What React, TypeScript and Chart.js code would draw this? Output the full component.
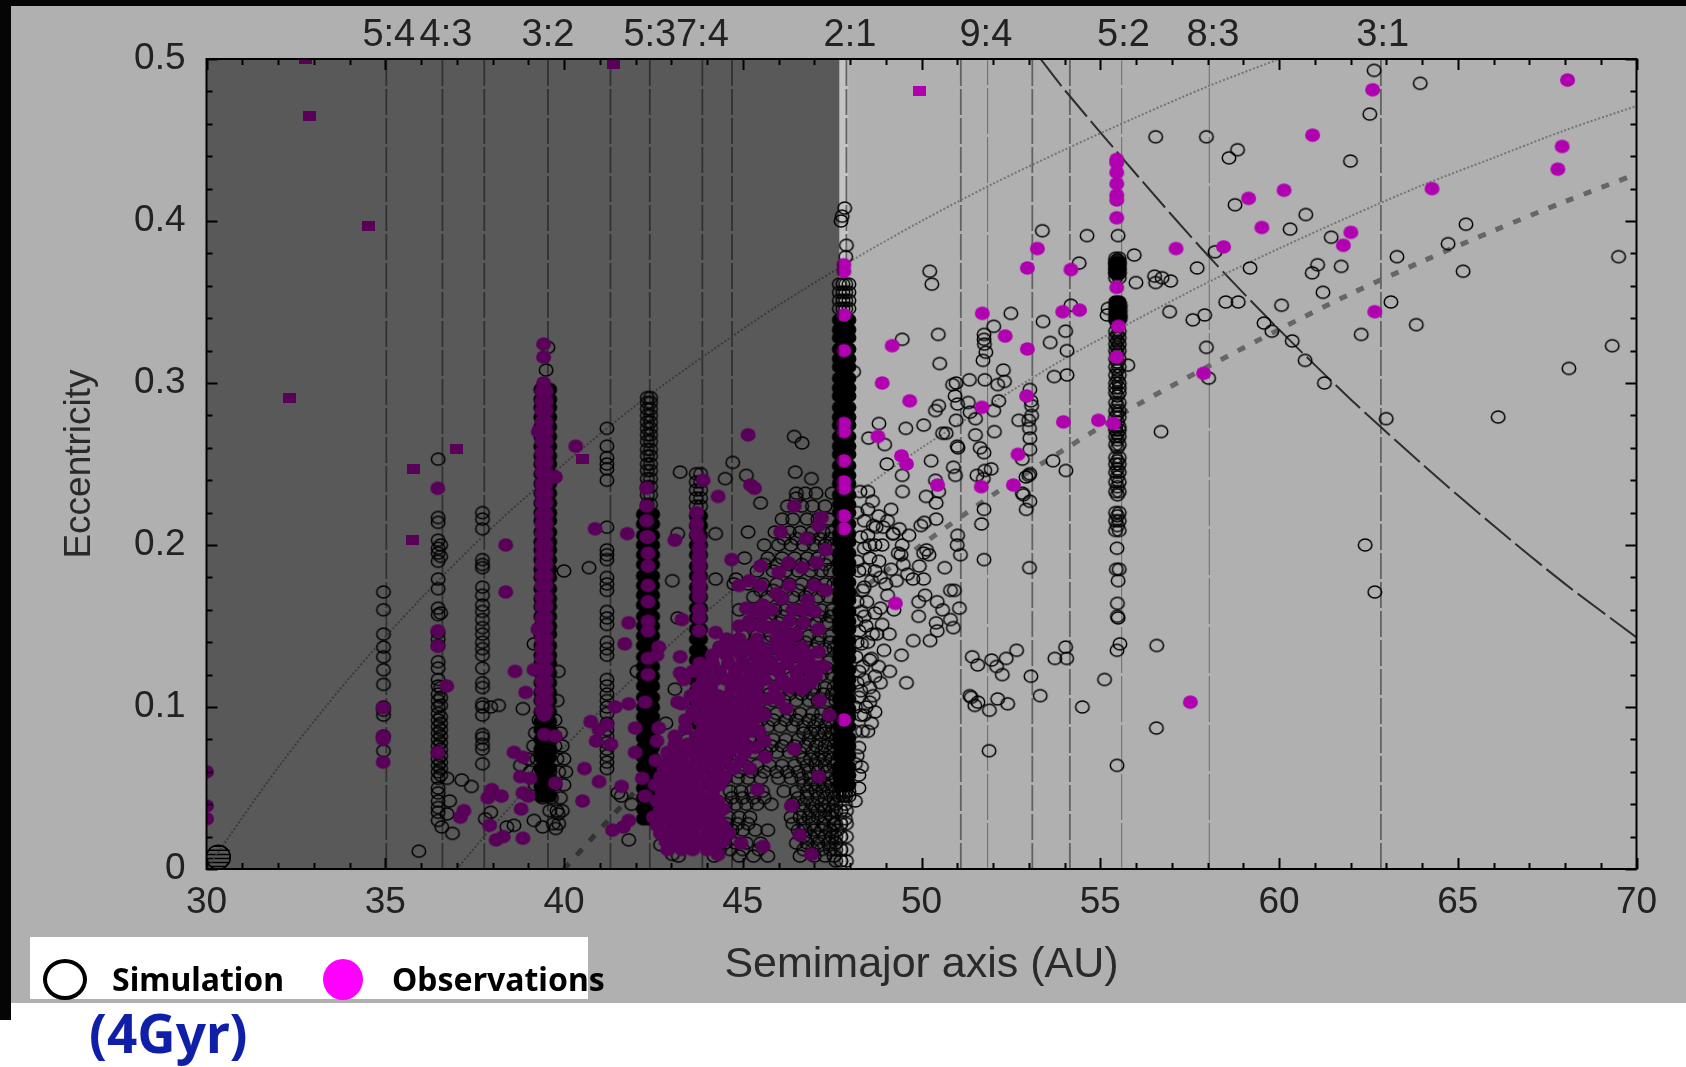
import React, { useEffect, useRef } from "react";
import { Chart, registerables } from "chart.js";

Chart.register(...registerables);

type P = [number, number];

// Axis and labels
const xTickStep = 5;
const yTickStep = 0.1;
const resonanceLabelA = [35.1, 36.7, 39.55, 42.4, 43.87, 48, 51.8, 55.65, 58.15, 62.9];
const resonanceLabels = ["5:4", "4:3", "3:2", "5:3", "7:4", "2:1", "9:4", "5:2", "8:3", "3:1"];
const resonanceLinesMain = [35.03, 36.6, 37.77, 39.55, 41.3, 42.4, 43.87, 44.7, 47.9, 51.1, 53.1, 54.15, 62.85];
const resonanceLinesThin = [51.85, 55.6, 58.05];
const darkLimit = 47.7;
const lightLimit = 47.95;

// Curves
const q30: P[] = [[30,0],[32,.0625],[34,.118],[36,.167],[38,.211],[40,.25],[42,.286],[44,.318],[46,.348],[48,.375],[50,.4],[52,.423],[54,.444],[56,.464],[58,.483],[60,.5]];
const q37: P[] = [[37,0],[38,.026],[40,.075],[42,.119],[44,.159],[46,.196],[48,.229],[50,.26],[52,.288],[54,.315],[56,.339],[58,.362],[60,.383],[62,.403],[64,.422],[66,.439],[68,.456],[70,.471]];
const q40: P[] = [[40,0],[42,.048],[44,.091],[46,.13],[48,.167],[50,.2],[52,.231],[54,.259],[56,.286],[58,.31],[60,.333],[62,.355],[64,.375],[66,.394],[68,.412],[70,.429]];
const bigQ80: P[] = [[53.33,.5],[54,.481],[56,.429],[58,.379],[60,.333],[62,.29],[64,.25],[66,.212],[68,.176],[70,.143]];
const hatch: P[] = [[30.12,.0015],[30.54,.0015],[30.63,.004],[30.03,.004],[30,.0065],[30.66,.0065],[30.66,.009],[30,.009],[30.05,.0115],[30.61,.0115],[30.47,.014],[30.19,.014]];
const hatchRing: P[] = [[30.33,.0073]];

// Simulation: crowded resonant columns, where the rings merge into solid black
const col21A = [47.7, 47.8, 47.88, 47.97];
const col21SolidE = [.052,.058,.063,.07,.076,.081,.088,.094,.099,.105,.112,.117,.123,.13,.135,.141,.148,.153,.159,.166,.171,.177,.184,.189,.195,.202,.207,.213,.22,.225,.231,.238,.243,.249,.256,.261,.267,.274,.279,.285,.292,.297,.303,.31,.315,.321,.328,.333,.339];
const col32A = [39.35, 39.48, 39.6];
const col32SolidE = [.045,.051,.056,.062,.069,.074,.08,.086,.091,.097,.104,.109,.115,.121,.127,.132,.138,.145,.15,.156,.162,.167,.173,.18,.185,.191,.197,.202,.208,.215,.22,.226,.232,.238,.244,.25,.255,.261,.267,.273,.279,.285,.29,.296];
const col53A = [42.22, 42.35, 42.48];
const col53SolidE = [.031,.037,.044,.05,.056,.063,.069,.075,.081,.088,.094,.1,.106,.113,.119,.125,.131,.138,.144,.15,.156,.163,.169,.175,.181,.188,.194,.2,.206,.213,.219];
const col74A = [43.7, 43.82];
const col74SolidE = [.09,.096,.103,.11,.116,.122,.129,.135,.142,.148,.155,.161,.168,.174,.181,.187,.194,.2,.206,.212,.218];
const col52A = [55.43, 55.53];
const col52SolidE = [.35,.347,.344,.341,.339,.374,.371,.368];

// Simulation: columns of separate rings
const col21RingE = [.045,.048,.346,.351,.356,.361];
const col21BaseA = [47.6, 47.75, 47.9];
const col21BaseE = [.005,.012,.02,.028,.036];
const col53TopA = [42.33, 42.42];
const col53TopE = [.225,.231,.236,.241,.246,.25,.255,.259,.264,.268,.272,.276,.28,.284,.288,.291];
const col74RingE = [.224,.229,.234,.239,.244];
const col35E = [.171,.16,.145,.137,.131,.123,.114,.1,.098,.095,.082,.073];
const col365E = [.253,.217,.214,.203,.198,.195,.19,.179,.173,.161,.157,.146,.142,.138,.128,.124,.117,.113,.108,.104,.1,.096,.092,.088,.084,.08,.076,.072,.068,.064,.06,.056,.05,.047,.042,.038,.035,.03];
const col365bE = [.2,.193,.158,.112,.106,.101,.094,.09,.086,.082,.078,.074,.07,.066,.062,.058];
const col377E = [.22,.216,.21,.191,.188,.186,.174,.169,.163,.159,.154,.149,.145,.14,.136,.132,.124,.115,.112,.102,.1,.095,.083,.081,.077,.074,.065];
const col412E = [.272,.261,.254,.25,.247,.24,.211,.197,.194,.191,.18,.176,.172,.159,.155,.151,.14,.136,.132,.117,.113,.108,.104,.1,.096,.09,.086,.082,.078,.074,.07,.066,.062];
const col52E = [.377,.375,.373,.37,.368,.365,.332,.328,.324,.32,.315,.31,.305,.3,.297,.294,.288,.283,.279,.273,.271,.267,.262,.254,.25,.245,.239,.233,.22,.215,.209];
const col52E2 = [.376,.372,.367,.336,.33,.326,.322,.318,.313,.308,.302,.292,.286,.281,.276,.269,.265,.26,.252,.247,.242,.236,.231,.218,.212];
const col52Lower: P[] = [[55.5,.391],[55.47,.198],[55.45,.185],[55.53,.185],[55.5,.178],[55.48,.164],[55.48,.156],[55.5,.155],[55.55,.139],[55.47,.135],[55.47,.064],[55.56,.348],[55.56,.345],[55.56,.342],[55.56,.34]];
const col21Top: P[] = [[47.85,.408],[47.78,.403],[47.9,.385],[47.88,.378],[47.75,.4]];

// Simulation: dense scatter in rows of equal eccentricity
const blobRowE = [.008,.016,.024,.032,.04,.048,.056,.064,.072,.08,.088,.096,.104,.112,.12,.128,.136,.144,.152,.16,.168,.176,.184,.192,.2,.208,.216,.224,.232];
const blobRowA = [
  [43.2,44.2,44.9,45.3,45.7,46.6,47,47.3,47.55],
  [44.5,44.8,45.1,45.5,46.5,46.8,47.1,47.4,47.6],
  [44.4,44.7,45,45.35,45.7,46.55,46.75,47,47.2,47.45,47.65],
  [44.6,44.9,45.2,46.35,46.6,46.85,47.1,47.3,47.5],
  [44.5,44.8,45.1,45.4,45.8,46.4,46.7,46.95,47.2,47.4,47.6],
  [44.65,44.95,45.25,45.55,46.15,46.5,46.8,47.05,47.25,47.5],
  [44.5,44.85,45.15,45.5,46,46.35,46.65,46.9,47.15,47.4,47.6],
  [44.7,45.05,45.4,45.75,46.1,46.45,46.8,47.05,47.3,47.55],
  [44.6,44.95,45.3,45.65,45.95,46.3,46.6,46.95,47.2,47.45],
  [44.8,45.2,45.55,45.85,46.2,46.55,46.85,47.15,47.4,47.6],
  [45.05,45.4,45.7,46.05,46.4,46.7,47,47.3,47.5],
  [45.3,45.6,45.95,46.3,46.6,46.95,47.2,47.45],
  [45.15,45.5,45.85,46.15,46.5,46.85,47.1,47.4,47.6],
  [45.3,45.7,46.05,46.4,46.75,47,47.3,47.55],
  [45.1,45.55,45.9,46.25,46.6,46.9,47.2,47.5],
  [45.35,45.75,46.1,46.45,46.8,47.1,47.4],
  [45.2,45.6,45.95,46.3,46.65,47,47.3,47.55],
  [45,45.4,45.8,46.15,46.5,46.85,47.15,47.45],
  [45.25,45.65,46,46.35,46.7,47.05,47.35],
  [44.9,45.5,45.9,46.2,46.55,46.9,47.2,47.5],
  [45.3,45.7,46.05,46.4,46.75,47.1,47.4],
  [44.75,45.15,45.55,45.95,46.3,46.65,47,47.3,47.55],
  [45.4,45.85,46.2,46.55,46.9,47.2,47.45],
  [45.05,45.7,46.1,46.45,46.8,47.1,47.35],
  [45.6,46,46.35,46.7,47,47.3,47.55],
  [45.9,46.3,46.6,46.95,47.25,47.5],
  [46.1,46.4,46.8,47.1,47.4],
  [46.25,46.65,46.95,47.3],
  [46.5,46.75,47.05,47.5],
];
const blobRow2E = [.012,.028,.044,.06,.076,.092,.108,.124,.14,.156,.172,.188,.204];
const blobRow2A = [
  [44.35,44.65,45,45.45,46.7,46.95,47.2,47.45],
  [44.55,44.85,45.15,46.4,46.7,46.95,47.25,47.55],
  [44.7,45,45.3,45.6,46.55,46.8,47.1,47.3,47.55],
  [44.55,44.9,45.25,45.6,45.95,46.25,46.55,46.85,47.1,47.35],
  [44.7,45.1,45.45,45.8,46.1,46.45,46.75,47.05,47.3,47.55],
  [45.2,45.5,45.85,46.2,46.5,46.85,47.1,47.4],
  [45.4,45.75,46,46.3,46.65,46.95,47.25,47.5],
  [45.45,45.8,46.15,46.5,46.7,47.05,47.35],
  [45.35,45.7,46.05,46.4,46.75,47.1,47.45],
  [45.4,45.75,46.1,46.45,46.8,47.15,47.45],
  [45.5,45.85,46.2,46.55,46.9,47.25],
  [45.6,45.95,46.3,46.65,47,47.3],
  [46.15,46.5,46.85,47.15,47.45],
];
const cornerA = [46.7, 46.9, 47.1, 47.3, 47.5];
const cornerE = [.02,.036,.052,.068,.084];
const base32RowE = [.028,.036,.044,.052,.06,.068,.076,.084,.092];
const base32RowA = [[39.7,39.85],[39.6,39.8,39.95],[39.4,39.65,39.9],[39.2,39.55,39.75,40],[39.05,39.3,39.6,39.85,40.05],[39,39.25,39.5,39.8,40],[39.15,39.4,39.75,39.95],[39.2,39.65,39.9],[39.3,39.75]];

// Simulation: individually read points
const simDark: P[] = [[39.5,.308],[39.55,.322],[36.73,.056],[37.14,.055],[37.41,.051],[36.8,.042],[36.73,.034],[36.58,.026],[36.88,.022],[35.94,.011],[38.17,.101],[37.95,.1],[38.85,.099],[39.16,.139],[37.8,.031],[37.95,.035],[38.4,.026],[38.6,.027],[39.16,.03],[39.4,.026],[39.77,.025],[39.84,.034],[38.78,.064],[39.84,.122],[39.81,.104],[41.51,.047],[41.89,.04],[41.81,.018],[41.6,.045],[46.44,.267],[46.66,.263],[46.47,.245],[46.92,.241],[46.5,.229],[45.5,.226],[45.1,.243],[44.72,.251],[44.51,.241],[43.25,.245],[44.24,.207],[43.18,.207],[45.15,.208],[40,.184],[40.7,.186],[43.03,.178],[43.18,.155],[44.24,.179],[44.81,.179],[42.04,.122],[43.1,.111],[43.03,.009],[42.7,.015],[42.8,.035],[43.1,.06],[43.45,.08],[42.85,.09],[43.3,.12]];
const simNear21: P[] = [[48.2,.07],[48.35,.085],[48.45,.1],[48.2,.115],[48.35,.125],[48.6,.13],[48.2,.14],[48.45,.15],[48.7,.158],[48.2,.165],[48.35,.172],[48.6,.178],[48.85,.18],[48.2,.19],[48.4,.185],[48.55,.192],[48.9,.2],[48.3,.205],[48.65,.212],[48.2,.22],[48.4,.215],[48.8,.218],[49.05,.215],[48.15,.1],[48.15,.085],[48.3,.095],[48.65,.107],[48.8,.125],[48.95,.135],[49.1,.145],[48.75,.145],[49.15,.185],[49.3,.178],[49.35,.195],[48.25,.05],[48.15,.042],[48.15,.065],[48.3,.11],[48.5,.14]];
const simLight: P[] = [[62.66,.493],[63.95,.485],[62.54,.466],[56.55,.452],[57.97,.452],[58.84,.444],[58.6,.439],[62,.437],[58.77,.41],[60.75,.404],[60.31,.395],[61.46,.39],[65.23,.398],[64.73,.386],[53.38,.394],[54.63,.391],[55.95,.379],[58.21,.381],[63.3,.378],[69.5,.378],[54.41,.374],[57.71,.371],[59.19,.371],[61.08,.373],[60.93,.368],[61.74,.372],[65.15,.369],[50.23,.369],[50.29,.361],[56.52,.366],[56.73,.365],[56.97,.363],[56.55,.362],[56,.362],[61.23,.356],[58.51,.35],[58.86,.35],[60.07,.348],[63.13,.35],[54.18,.348],[55.22,.346],[55.19,.342],[56.94,.344],[57.59,.339],[57.92,.342],[59.58,.337],[63.84,.336],[52.5,.343],[53.4,.338],[52.02,.335],[54.03,.332],[51.75,.33],[51.75,.327],[51.76,.324],[50.47,.33],[49.46,.327],[53.6,.325],[59.8,.332],[60.37,.326],[62.3,.33],[54.07,.32],[57.97,.322],[69.32,.323],[51.8,.319],[51.72,.314],[50.51,.312],[60.73,.314],[55.77,.311],[61.27,.3],[68.11,.309],[58.03,.303],[52.29,.308],[48.1,.307],[51.77,.302],[51.34,.302],[50.87,.299],[50.97,.3],[52.32,.301],[52.13,.299],[53.71,.304],[54.07,.305],[53.03,.296],[50.94,.292],[51.01,.287],[51.31,.288],[50.48,.286],[50.39,.283],[52.16,.289],[52.02,.283],[51.36,.282],[51.51,.278],[50.97,.277],[50.06,.274],[49.56,.272],[48.81,.275],[48.52,.266],[48.97,.262],[50.59,.269],[50.69,.269],[52.04,.27],[51.51,.268],[51,.261],[51.02,.26],[52.72,.277],[53,.277],[53.08,.28],[53.02,.272],[53.03,.266],[53.03,.259],[53.06,.289],[53.08,.286],[56.7,.27],[63,.278],[66.13,.279],[51.64,.26],[51.75,.257],[52.82,.253],[53.68,.252],[54.04,.246],[50.27,.252],[49.03,.25],[50.89,.248],[50.95,.243],[51.95,.247],[51.77,.246],[51.55,.243],[51.73,.241],[53,.243],[53.03,.244],[52.92,.242],[49.46,.243],[50.39,.24],[49.47,.233],[48.28,.233],[48.5,.233],[48.63,.227],[48.5,.222],[50.13,.23],[50.48,.233],[50.41,.226],[52.82,.232],[52.85,.231],[53.03,.227],[52.93,.222],[51.75,.222],[51.68,.213],[49.15,.222],[50.41,.216],[49.98,.212],[50.08,.214],[51.01,.206],[48.73,.211],[48.93,.211],[49.38,.21],[49.21,.207],[49.65,.206],[48.5,.206],[62.41,.2],[62.68,.171],[56.58,.138],[56.57,.087],[51.75,.191],[53.02,.186],[51,.2],[51.09,.194],[50.65,.186],[50.14,.197],[50.21,.194],[50.06,.195],[50.81,.172],[50.92,.172],[50.44,.165],[50.59,.16],[51.06,.161],[50.81,.154],[50.41,.152],[50.44,.147],[50.89,.149],[50.1,.169],[49.92,.165],[49.92,.156],[49.77,.141],[50.24,.141],[49.44,.132],[49.11,.122],[49.58,.115],[51.42,.131],[51.57,.126],[51.96,.129],[52.1,.125],[52.26,.12],[52.37,.13],[52.66,.135],[53.73,.13],[54.03,.137],[54.06,.13],[53.06,.119],[53.32,.107],[55.12,.117],[54.5,.1],[51.39,.106],[51.35,.107],[51.58,.103],[51.49,.101],[52.13,.105],[52.41,.102],[51.9,.098],[51.89,.073],[48.4,.198],[48.55,.2],[48.7,.2],[49.2,.207],[49.46,.2],[49.43,.194],[48.81,.19],[49.49,.188],[49.94,.187],[48.25,.184],[48.7,.184],[49.61,.182],[49.76,.179],[50.06,.179],[49,.176],[48.4,.174],[49.05,.169],[48.47,.165],[48.32,.159],[48.85,.161],[49.23,.16],[48.17,.153],[48.4,.156],[48.9,.151],[48.25,.147],[48.63,.145],[48.32,.139],[48.17,.131],[48.55,.129],[48.25,.122],[48.7,.119],[48.4,.117],[48.85,.115],[48.55,.112],[48.25,.106],[48.55,.103],[48.7,.097],[48.4,.095],[48.6,.09],[48.5,.085],[48.25,.075],[48.32,.063],[48.25,.058],[47.9,.052],[47.87,.04],[47.87,.031]];

// Observations
const obsSquares: P[] = [[32.76,.5],[32.87,.465],[34.53,.397],[32.32,.291],[35.79,.247],[37,.259],[40.52,.253],[41.39,.497],[35.75,.203],[49.94,.48]];
const obs32A = [39.38, 39.5];
const obs32E = [.098,.104,.11,.116,.123,.13,.136,.142,.149,.155,.162,.168,.175,.181,.188,.194,.2,.207,.213,.219,.226,.232,.238,.245,.251,.257,.264,.27,.276,.283,.289,.295];
const obsBlobRowE = [.012,.022,.032,.042,.052,.062,.072,.082,.092,.102,.112,.122,.132,.142];
const obsBlobRowA = [
  [42.9,43.3,43.6,44,44.2],
  [42.7,43,43.3,43.6,44,44.3,44.6],
  [42.5,42.85,43.2,43.5,43.9,44.3],
  [42.6,42.9,43.2,43.6,43.95,44.3],
  [42.55,42.9,43.25,43.6,44,44.35],
  [42.8,43.15,43.5,43.9,44.3,44.75,45.2],
  [42.9,43.25,43.6,43.95,44.3,44.6,45.05],
  [43.1,43.7,44,44.35,44.7,45],
  [43.4,43.8,44.15,44.5,44.85,45.3],
  [43.3,43.75,44.1,44.45,44.8,45.15],
  [43.75,44.1,44.7,45.05,45.4,45.9,46.3],
  [43.6,43.95,44.35,44.8,45.2,45.6,46,46.5,46.9],
  [44.15,44.55,44.95,45.35,45.65,46.1,46.45,46.85],
  [44.55,44.9,45.4,45.95,46.3],
];
const obsBlobRow2E = [.017,.027,.037,.047,.057,.067,.077,.087,.097,.107,.117,.127,.137];
const obsBlobRow2A = [
  [42.85,43.15,43.45,43.8,44.15,44.45],
  [42.6,43,43.35,43.7,44.1,44.45],
  [42.7,43.05,43.35,43.75,44.1,44.45],
  [42.75,43.05,43.4,43.75,44.15],
  [42.7,43.05,43.4,43.75,44.15,44.5],
  [42.95,43.3,43.7,44.1,44.5,44.95],
  [43.1,43.45,43.8,44.15,44.45,44.85],
  [43.4,43.9,44.2,44.55,44.85,45.15],
  [43.6,44,44.3,44.65,45,45.45],
  [43.55,43.95,44.3,44.6,45,45.35],
  [43.9,44.25,44.55,44.9,45.25,45.6,46.1,46.5],
  [43.8,44.15,44.6,45,45.4,45.8,46.25,46.7],
  [44.35,44.75,45.15,45.5,45.9,46.25,46.65],
];
const obsBlobExtra: P[] = [[44.85,.075],[45.15,.075],[45.35,.075],[45.3,.085],[45.45,.085],[45.1,.095],[45.4,.095],[45.6,.095],[45.45,.105],[45.7,.105],[46,.105],[46.7,.115],[46.9,.115],[47,.125],[47.2,.125],[44.9,.15],[45.2,.15],[45.5,.15],[45.9,.15],[46.3,.153],[46.7,.152],[45.3,.16],[45.8,.16],[46.4,.16],[46.7,.16],[44.9,.175],[45.5,.175],[46.3,.175],[47,.175]];
const obsPoints: P[] = [[39.43,.324],[39.43,.316],[39.43,.3],[39.76,.242],[40.33,.261],[39.28,.27],[39.45,.095],[39.45,.083],[39.76,.082],[39.27,.148],[39.16,.123],[38.63,.122],[38.93,.109],[38.37,.2],[38.37,.171],[36.47,.235],[40.87,.21],[41.77,.207],[45.15,.268],[43.89,.24],[44.31,.23],[45.33,.235],[45.22,.237],[46.44,.224],[47.2,.217],[46.06,.208],[47.12,.212],[42.31,.235],[42.31,.224],[42.31,.215],[42.31,.205],[42.35,.195],[42.35,.175],[42.35,.13],[42.35,.12],[43.71,.22],[43.71,.213],[43.71,.207],[43.78,.198],[43.78,.19],[43.78,.172],[43.78,.16],[43.1,.203],[30,.06],[30,.039],[30,.031],[34.94,.0995],[34.94,.082],[34.94,.08],[34.94,.066],[36.47,.147],[36.47,.1375],[36.72,.113],[36.47,.072],[38.6,.072],[38.85,.069],[38.78,.057],[39.05,.056],[38.85,.047],[39,.045],[38.8,.037],[37.98,.049],[37.87,.044],[38.25,.045],[37.92,.027],[38.1,.018],[38.3,.02],[38.85,.019],[37.1,.032],[37.2,.036],[39.76,.053],[40.52,.042],[40.57,.062],[40.98,.054],[41.61,.051],[40.75,.091],[40.98,.086],[40.9,.079],[41.31,.077],[41.43,.1],[41.2,.089],[41.81,.152],[41.7,.139],[41.36,.024],[41.66,.026],[41.81,.03],[41.81,.102],[42.27,.103],[41.99,.087],[41.99,.072],[42.19,.056],[42.27,.045],[42.35,.205],[42.35,.187],[42.35,.165],[42.35,.153],[42.35,.147],[42.65,.137],[42.6,.132],[43.3,.154],[43.25,.131],[43.25,.121],[43.36,.117],[43.18,.103],[42.65,.087],[42.6,.079],[42.57,.067],[43.78,.204],[43.78,.193],[43.78,.186],[43.78,.18],[43.78,.176],[43.78,.168],[43.78,.155],[43.78,.147],[44.24,.146],[44.69,.191],[45.19,.178],[45.5,.187],[46.28,.189],[46.01,.183],[46.66,.186],[47.07,.189],[47.32,.197],[46.77,.204],[47.32,.172],[47.01,.159],[47.12,.148],[46.82,.166],[45.94,.17],[46.1,.167],[45.56,.163],[45.56,.157],[45.1,.161],[45.18,.153],[44.62,.138],[45.75,.149],[46.13,.148],[46.5,.145],[47.12,.134],[47.27,.125],[47.04,.119],[47.42,.095],[47.12,.057],[47.15,.104],[46.21,.099],[46.66,.111],[45.83,.106],[45.6,.079],[45.63,.069],[45.41,.049],[46.36,.039],[46.44,.074],[46.59,.021],[46.92,.009],[44.95,.016],[45.57,.014],[44.31,.009],[68.07,.487],[62.62,.481],[60.94,.453],[67.92,.446],[67.8,.432],[55.46,.438],[55.46,.436],[55.46,.43],[55.46,.423],[55.46,.416],[55.46,.413],[55.46,.402],[64.28,.42],[60.14,.419],[59.15,.414],[59.52,.396],[62.01,.393],[61.8,.385],[58.45,.384],[57.12,.383],[53.24,.383],[52.96,.371],[54.18,.37],[47.83,.373],[47.83,.369],[55.46,.359],[51.7,.343],[53.95,.344],[54.42,.345],[62.68,.344],[55.51,.335],[52.34,.329],[52.96,.321],[49.18,.323],[55.46,.316],[57.89,.306],[48.9,.3],[49.67,.289],[52.94,.292],[51.69,.285],[53.97,.276],[54.95,.277],[55.37,.275],[48.78,.267],[49.44,.255],[49.58,.25],[52.7,.256],[50.45,.237],[51.67,.236],[52.57,.237],[47.83,.342],[47.83,.32],[47.83,.275],[47.83,.27],[47.83,.252],[47.83,.239],[47.83,.235],[47.83,.218],[47.83,.21],[47.83,.092],[49.27,.164],[57.52,.103]];

const pts = (list: P[]) => list.map(([x, y]) => ({ x, y }));
const cross = (as: number[], es: number[]) => as.flatMap((x) => es.map((y) => ({ x, y })));
const rows = (es: number[], as: number[][]) => es.flatMap((y, i) => as[i].map((x) => ({ x, y })));

function ellipseImage(w: number, h: number, stroke: string | null, fill: string | null, lw: number) {
  const c = document.createElement("canvas");
  c.width = Math.ceil(w) + 4;
  c.height = Math.ceil(h) + 4;
  const g = c.getContext("2d")!;
  g.beginPath();
  g.ellipse(c.width / 2, c.height / 2, w / 2, h / 2, 0, 0, Math.PI * 2);
  if (fill) { g.fillStyle = fill; g.fill(); }
  if (stroke) { g.strokeStyle = stroke; g.lineWidth = lw; g.stroke(); }
  return c;
}
function rectImage(w: number, h: number, fill: string) {
  const c = document.createElement("canvas");
  c.width = w;
  c.height = h;
  const g = c.getContext("2d")!;
  g.fillStyle = fill;
  g.fillRect(0, 0, w, h);
  return c;
}

const backgroundPlugin = {
  id: "backdrop",
  beforeDraw(chart: any) {
    const { ctx, width, height } = chart;
    ctx.save();
    ctx.fillStyle = "#ffffff";
    ctx.fillRect(0, 0, width, height);
    ctx.fillStyle = "#b0b0b0";
    ctx.fillRect(11, 6, width - 11, 997);
    ctx.fillStyle = "#050505";
    ctx.fillRect(0, 0, width, 6);
    ctx.fillRect(0, 0, 11, 1020);
    ctx.restore();
  },
  beforeDatasetsDraw(chart: any) {
    const { ctx, scales, chartArea: a } = chart;
    const l = scales.x.getPixelForValue(darkLimit);
    const r = scales.x.getPixelForValue(lightLimit);
    ctx.save();
    ctx.fillStyle = "#c4c4c4";
    ctx.fillRect(l, a.top, r - l, a.bottom - a.top);
    ctx.restore();
  },
  afterDatasetsDraw(chart: any) {
    const { ctx, scales, chartArea: a } = chart;
    const r = scales.x.getPixelForValue(darkLimit);
    ctx.save();
    ctx.fillStyle = "rgba(0,0,0,0.495)";
    ctx.fillRect(a.left, a.top, r - a.left, a.bottom - a.top);
    ctx.restore();
  },
  afterDraw(chart: any) {
    const { ctx, scales, chartArea: a } = chart;
    ctx.save();
    ctx.strokeStyle = "#000";
    ctx.lineWidth = 2;
    for (let v = 30; v <= 70; v += 1) {
      const px = Math.round(scales.x.getPixelForValue(v)) + 0.5;
      const len = v % 5 === 0 ? 11 : 6;
      ctx.beginPath();
      ctx.moveTo(px, a.bottom); ctx.lineTo(px, a.bottom - len);
      ctx.moveTo(px, a.top); ctx.lineTo(px, a.top + len);
      ctx.stroke();
    }
    for (let k = 0; k <= 25; k += 1) {
      const py = Math.round(scales.y.getPixelForValue(k * 0.02)) + 0.5;
      const len = k % 5 === 0 ? 11 : 6;
      ctx.beginPath();
      ctx.moveTo(a.left, py); ctx.lineTo(a.left + len, py);
      ctx.moveTo(a.right, py); ctx.lineTo(a.right - len, py);
      ctx.stroke();
    }
    ctx.strokeRect(a.left, a.top, a.right - a.left, a.bottom - a.top);
    ctx.restore();
  },
};

const tickFont = { family: "'Liberation Sans', Arial, sans-serif", size: 37 };

export default function App() {
  const ref = useRef<HTMLCanvasElement>(null);
  useEffect(() => {
    const open = ellipseImage(13.5, 12, "#000", null, 1.5);
    const solid = ellipseImage(13.5, 12, "#000", "#000", 1.5);
    const disc = ellipseImage(15, 13.5, null, "#b000b0", 1);
    const square = rectImage(13, 10, "#b000b0");
    const simSolid = [
      ...cross(col21A, col21SolidE), ...cross(col32A, col32SolidE),
      ...cross(col53A, col53SolidE), ...cross(col74A, col74SolidE),
      ...cross(col52A, col52SolidE),
    ];
    const simData = [
      ...cross(col21A, col21RingE), ...cross(col21BaseA, col21BaseE), ...pts(col21Top),
      ...cross(col53TopA, col53TopE), ...cross(col74A, col74RingE),
      ...cross([34.95], col35E), ...cross([36.48], col365E), ...cross([36.55], col365bE),
      ...cross([37.72], col377E), ...cross([41.2], col412E),
      ...cross(col52A, col52E), ...cross([55.48], col52E2), ...pts(col52Lower),
      ...rows(blobRowE, blobRowA), ...rows(blobRow2E, blobRow2A), ...cross(cornerA, cornerE), ...rows(base32RowE, base32RowA),
      ...pts(simDark), ...pts(simNear21), ...pts(simLight),
    ];
    const obsData = [
      ...cross(obs32A, obs32E),
      ...rows(obsBlobRowE, obsBlobRowA), ...rows(obsBlobRow2E, obsBlobRow2A), ...pts(obsBlobExtra),
      ...pts(obsPoints),
    ];
    const vline = (x: number, color: string, w: number, dash: number[]) => ({
      label: "resonance", data: [{ x, y: 0 }, { x, y: 0.5 }], showLine: true, pointRadius: 0,
      borderColor: color, borderWidth: w, borderDash: dash, order: 5,
    });
    const curve = (d: P[], color: string, w: number, dash: number[], tension = 0.3) => ({
      label: "curve", data: pts(d), showLine: true, pointRadius: 0, tension,
      borderColor: color, borderWidth: w, borderDash: dash, order: 4,
    });
    const chart = new Chart(ref.current!, {
      type: "scatter",
      data: {
        datasets: [
          ...resonanceLinesMain.map((x) => vline(x, "#626262", 1.8, [26, 3])),
          ...resonanceLinesThin.map((x) => vline(x, "#6a6a6a", 1, [46, 3])),
          curve(q30, "#747474", 2, [2, 2]),
          curve(q37, "#747474", 2, [2, 2]),
          curve(q40, "#666666", 5, [8, 11]),
          curve(bigQ80, "#2e2e2e", 2, [34, 6]),
          curve(hatch, "#000", 1.5, [], 0),
          { label: "hatch", data: pts(hatchRing), pointRadius: 12, pointBackgroundColor: "transparent", pointBorderColor: "#000", pointBorderWidth: 1.5, order: 3 },
          { label: "Simulation (crowded)", data: simSolid, pointStyle: solid as any, pointRadius: 6, order: 2 },
          { label: "Simulation", data: simData, pointStyle: open as any, pointRadius: 6, order: 2 },
          { label: "Observations", data: obsData, pointStyle: disc as any, pointRadius: 7, order: 1 },
          { label: "Observations (square)", data: pts(obsSquares), pointStyle: square as any, pointRadius: 6, order: 0 },
        ] as any,
      },
      options: {
        responsive: false,
        animation: false,
        devicePixelRatio: 1,
        layout: { padding: { right: 49.5, left: 0, top: 0, bottom: 0 } },
        plugins: { legend: { display: false }, tooltip: { enabled: false } },
        scales: {
          x: {
            type: "linear", position: "bottom", min: 30, max: 70,
            grid: { display: false, drawTicks: false }, border: { display: false },
            ticks: { stepSize: xTickStep, color: "#222", font: tickFont, padding: 12, maxRotation: 0 },
            title: { display: true, text: "Semimajor axis (AU)", color: "#2a2a2a", font: { family: tickFont.family, size: 43 }, padding: { top: 0, bottom: 76 } },
            afterFit(s: any) { s.height = 198; },
          },
          top: {
            type: "linear", position: "top", min: 30, max: 70,
            grid: { display: false, drawTicks: false }, border: { display: false },
            afterBuildTicks(s: any) { s.ticks = resonanceLabelA.map((value) => ({ value })); },
            ticks: {
              autoSkip: false, maxRotation: 0, color: "#222", font: { family: tickFont.family, size: 38 }, padding: 1,
              callback: (_v: any, i: number) => resonanceLabels[i],
            },
            afterFit(s: any) { s.height = 59; },
          },
          y: {
            type: "linear", position: "left", min: 0, max: 0.5,
            grid: { display: false, drawTicks: false }, border: { display: false },
            ticks: {
              stepSize: yTickStep, color: "#222", font: tickFont, padding: 21,
              callback: (v: any) => (Number(v) === 0 ? "0" : Number(v).toFixed(1)),
            },
            title: { display: true, text: "Eccentricity", color: "#2a2a2a", font: { family: tickFont.family, size: 37 }, padding: { top: 58, bottom: 0 } },
            afterFit(s: any) { s.width = 206.5; },
          },
        },
      } as any,
      plugins: [backgroundPlugin as any],
    });
    return () => chart.destroy();
  }, []);

  const legendText: React.CSSProperties = {
    position: "absolute", top: 958, font: "bold 32px 'Noto Sans', sans-serif", color: "#000", lineHeight: "42px", whiteSpace: "nowrap",
  };
  return (
    <div style={{ position: "absolute", left: 0, top: 0, width: 1686, height: 1067, overflow: "hidden", background: "#fff" }}>
      <canvas ref={ref} width={1686} height={1067} style={{ display: "block", position: "absolute", left: 0, top: 0 }} />
      <div style={{ position: "absolute", left: 30, top: 937, width: 558, height: 62, background: "#fff" }} />
      <div style={{ position: "absolute", left: 43, top: 959, width: 36, height: 33, border: "4px solid #000", borderRadius: "50%" }} />
      <div style={{ ...legendText, left: 112 }}>Simulation</div>
      <div style={{ position: "absolute", left: 323, top: 959, width: 40, height: 41, borderRadius: "50%", background: "#ff00ff" }} />
      <div style={{ ...legendText, left: 392 }}>Observations</div>
      <div style={{ position: "absolute", left: 89, top: 1002, font: "bold 53px 'Noto Sans', sans-serif", color: "#101fa8", lineHeight: "62px", whiteSpace: "nowrap" }}>(4Gyr)</div>
    </div>
  );
}
